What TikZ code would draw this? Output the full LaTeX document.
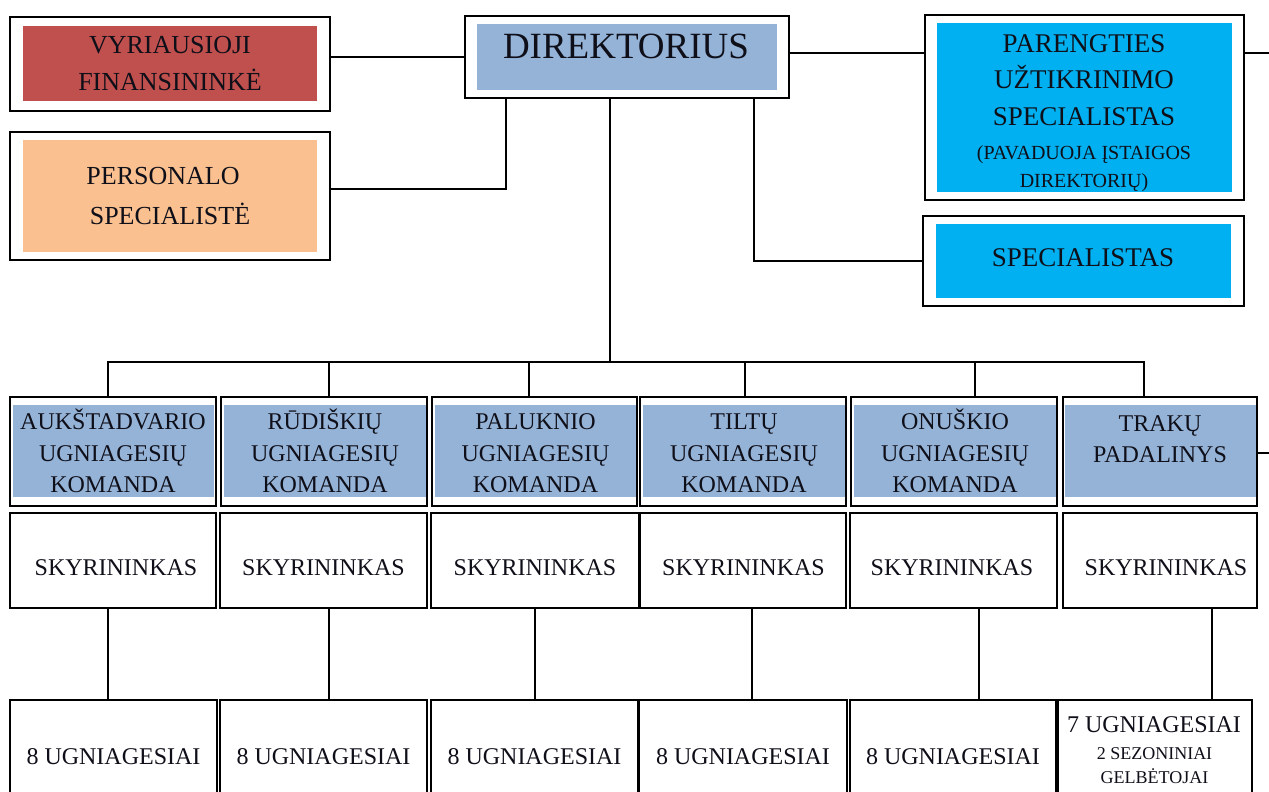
\documentclass[tikz,border=0pt]{standalone}
\usepackage{fontspec}
\setmainfont{Liberation Serif}
\definecolor{redf}{HTML}{C0504D}
\definecolor{peach}{HTML}{FAC090}
\definecolor{bluef}{HTML}{95B3D7}
\definecolor{cyanf}{HTML}{00B0F0}
\definecolor{textc}{RGB}{15,15,25}
\begin{document}
\begin{tikzpicture}[x=1pt,y=-1pt,
  frame/.style 2 args={draw=black, line width=2.4pt, fill=white, inner sep=0pt, outer sep=0pt, minimum width=#1pt, minimum height=#2pt, align=center, text=textc},
  fillbox/.style n args={3}{fill=#1, draw=none, inner sep=0pt, outer sep=0pt, minimum width=#2pt, minimum height=#3pt, align=center, text=textc},
  teamfont/.style={font=\fontsize{24}{31.5}\selectfont},
  txt/.style={inner sep=0pt, outer sep=0pt, align=center, text=textc},
  conn/.style={draw=black, line width=2pt},
]
\useasboundingbox (0,0) rectangle (1269,792);
\clip (0,0) rectangle (1269,792);
\fill[white] (0,0) rectangle (1269,792);

% ---- top row ----
\node[frame={320}{94}] (vyr) at (170,64) {};
\node[fillbox={redf}{294}{75}, font=\fontsize{26}{37}\selectfont] (vyrin) at (170,63.5) {VYRIAUSIOJI\\FINANSININKĖ};

\node[frame={320}{128}] (pers) at (170,196) {};
\node[fillbox={peach}{294}{112}, font=\fontsize{26}{40}\selectfont] (persin) at (170,196) {PERSONALO\hspace*{14pt}\\SPECIALISTĖ};

\node[frame={324}{82}] (dir) at (627,57) {};
\node[fillbox={bluef}{300}{66}] (dirin) at (627,57) {};
\node[txt, font=\fontsize{37}{40}\selectfont] (dirt) at (626,46) {DIREKTORIUS};

\node[frame={319}{185}] (par) at (1084.5,107.5) {};
\node[fillbox={cyanf}{295}{169}] (parin) at (1084.5,107.5) {};
\node[txt, font=\fontsize{27}{36.5}\selectfont] (part) at (1084,80) {PARENGTIES\\UŽTIKRINIMO\\SPECIALISTAS};
\node[txt, font=\fontsize{20}{28}\selectfont] (parsub) at (1084,169) {(PAVADUOJA ĮSTAIGOS\\DIREKTORIŲ)};

\node[frame={321}{90}] (spec) at (1083.5,261) {};
\node[fillbox={cyanf}{295}{74}] (specin) at (1083.5,261) {};
\node[txt, font=\fontsize{27}{30}\selectfont] (spect) at (1083,258) {SPECIALISTAS};

% ---- team row ----
\node[frame={206}{109}] (t1) at (113,451.5) {};
\node[frame={206}{109}] (t2) at (324,451.5) {};
\node[frame={205}{109}] (t3) at (534.5,451.5) {};
\node[frame={206}{109}] (t4) at (743,451.5) {};
\node[frame={206}{109}] (t5) at (954,451.5) {};
\node[frame={194}{109}] (t6) at (1160,451.5) {};
\node[fillbox={bluef}{201}{92}, teamfont] (t1in) at (113,451) {AUKŠTADVARIO\\UGNIAGESIŲ\\KOMANDA};
\node[fillbox={bluef}{202}{92}, teamfont] (t2in) at (325,451) {RŪDIŠKIŲ\\UGNIAGESIŲ\\KOMANDA};
\node[fillbox={bluef}{201}{92}, teamfont] (t3in) at (535.5,451) {\vphantom{Š}PALUKNIO\\UGNIAGESIŲ\\KOMANDA};
\node[fillbox={bluef}{202}{92}, teamfont] (t4in) at (744,451) {\vphantom{Š}TILTŲ\\UGNIAGESIŲ\\KOMANDA};
\node[fillbox={bluef}{202}{92}, teamfont] (t5in) at (955,451) {ONUŠKIO\\UGNIAGESIŲ\\KOMANDA};
\node[fillbox={bluef}{191}{92}] (t6in) at (1160.5,451) {};
\node[txt, teamfont] (t6t) at (1160,439) {TRAKŲ\\PADALINYS};

% ---- SKYRININKAS row ----
\node[frame={206}{95}] (s1) at (113,560.5) {};
\node[frame={207}{95}] (s2) at (323.5,560.5) {};
\node[frame={208}{95}] (s3) at (535,560.5) {};
\node[frame={206}{95}] (s4) at (743,560.5) {};
\node[frame={207}{95}] (s5) at (953.5,560.5) {};
\node[frame={194}{95}] (s6) at (1160,560.5) {};
\foreach \n/\x in {s1/116, s2/323.5, s3/535, s4/743.5, s5/952, s6/1166}
  \node[txt, teamfont] (\n t) at (\x,568) {SKYRININKAS};

% ---- bottom row ----
\node[frame={207}{114}, teamfont] (b1) at (113.5,757) {8 UGNIAGESIAI};
\node[frame={207}{114}, teamfont] (b2) at (323.5,757) {8 UGNIAGESIAI};
\node[frame={207}{114}, teamfont] (b3) at (534.5,757) {8 UGNIAGESIAI};
\node[frame={208}{114}, teamfont] (b4) at (743,757) {8 UGNIAGESIAI};
\node[frame={206}{114}, teamfont] (b5) at (953,757) {8 UGNIAGESIAI};
\node[frame={194}{114}] (b6) at (1155,757) {};
\node[txt, teamfont] (b6a) at (1154,725) {7 UGNIAGESIAI};
\node[txt, font=\fontsize{18}{24}\selectfont] (b6b) at (1154.5,766) {2 SEZONINIAI\\GELBĖTOJAI};

% ---- connectors ----
\draw[conn] (dir.west) -- (dir.west -| vyr.east);
\draw[conn] ([yshift=7pt]pers.east) -| ([xshift=-121pt]dir.south);
\coordinate (dirE) at ([yshift=4pt]dir.east);
\draw[conn] (dirE) -- (dirE -| par.west);
\coordinate (edgeP) at (1269,53);
\draw[conn] (par.east |- edgeP) -- (edgeP);
\draw[conn] ([xshift=127pt]dir.south) |- (spec.west);

\coordinate (bus) at (610,362);
\draw[conn] ([xshift=-17pt]dir.south) -- (bus);
\draw[conn] ([xshift=-5pt]t1.north) |- (bus) -| ([xshift=-16pt]t6.north);
\draw[conn] ([xshift=5pt]t2.north) |- (bus);
\draw[conn] ([xshift=-5.5pt]t3.north) |- (bus);
\draw[conn] ([xshift=2pt]t4.north) |- (bus);
\draw[conn] ([xshift=21pt]t5.north) |- (bus);
\coordinate (edgeT) at (1269,453);
\draw[conn] (t6.east |- edgeT) -- (edgeT);

\draw[conn] ([xshift=-5pt]s1.south) |- (b1.north);
\draw[conn] ([xshift=5.5pt]s2.south) |- (b2.north);
\draw[conn] (s3.south) |- (b3.north);
\draw[conn] ([xshift=9pt]s4.south) |- (b4.north);
\draw[conn] ([xshift=25.5pt]s5.south) |- (b5.north);
\draw[conn] ([xshift=52pt]s6.south) |- (b6.north);
\end{tikzpicture}
\end{document}
